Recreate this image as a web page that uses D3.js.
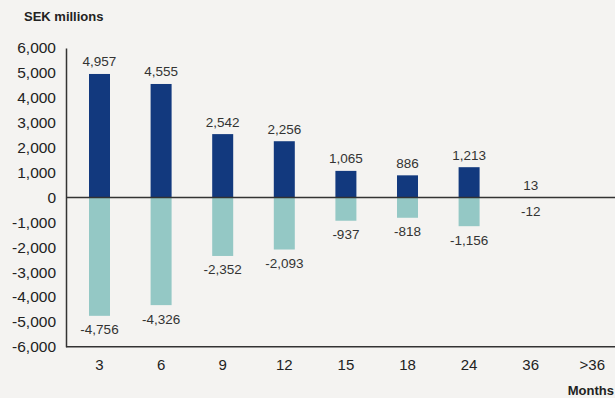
<!DOCTYPE html>
<html><head><meta charset="utf-8">
<script src="https://cdn.jsdelivr.net/npm/d3@7"></script>
<style>
html,body{margin:0;padding:0;background:#f4f3f1;}
svg{display:block;font-family:"Liberation Sans",Arial,Helvetica,sans-serif;}
</style></head>
<body>
<svg id="chart" width="615" height="398"></svg>
<script>
const categories = ["3","6","9","12","15","18","24","36",">36"];
const positiveValues = [4957,4555,2542,2256,1065,886,1213,13,null];
const negativeValues = [-4756,-4326,-2352,-2093,-937,-818,-1156,-12,null];
const yTicks = [-6000,-5000,-4000,-3000,-2000,-1000,0,1000,2000,3000,4000,5000,6000];
const yTitle = "SEK millions";
const xTitle = "Months";

const svg = d3.select("#chart");
svg.append("rect").attr("width",615).attr("height",398).attr("fill","#f4f3f1");

const x = d3.scaleBand().domain(categories).range([68.7, 623.1]).padding(0);
const y = d3.scaleLinear().domain([-6000,6000]).range([346.8, 48]);
const barW = 21;
const fmt0 = d3.formatLocale({decimal:".", thousands:",", grouping:[3], currency:["",""], minus:"-"}).format(",");
const fmt = v => fmt0(v);
const axisColor = "#333";

// bars
const posData = categories.map((c,i)=>({c, v: positiveValues[i]})).filter(d=>d.v!=null);
const negData = categories.map((c,i)=>({c, v: negativeValues[i]})).filter(d=>d.v!=null);

svg.append("g").selectAll("rect").data(negData).join("rect")
  .attr("x", d=>x(d.c)+x.bandwidth()/2-barW/2)
  .attr("width", barW)
  .attr("y", y(0))
  .attr("height", d=>y(d.v)-y(0))
  .attr("fill","#94c8c5");

svg.append("g").selectAll("rect").data(posData).join("rect")
  .attr("x", d=>x(d.c)+x.bandwidth()/2-barW/2)
  .attr("width", barW)
  .attr("y", d=>y(d.v))
  .attr("height", d=>y(0)-y(d.v))
  .attr("fill","#12397e");

// value labels
svg.append("g").selectAll("text").data(posData).join("text")
  .attr("x", d=>x(d.c)+x.bandwidth()/2)
  .attr("y", d=>y(d.v)-7.5)
  .attr("text-anchor","middle")
  .attr("font-size","13.5px").attr("fill","#333")
  .text(d=>fmt(d.v));
svg.append("g").selectAll("text").data(negData).join("text")
  .attr("x", d=>x(d.c)+x.bandwidth()/2)
  .attr("y", d=>y(d.v)+18.5)
  .attr("text-anchor","middle")
  .attr("font-size","13.5px").attr("fill","#333")
  .text(d=>fmt(d.v));

// y axis
const yAxis = d3.axisLeft(y).tickValues(yTicks).tickFormat(fmt).tickSize(0).tickPadding(10);
const gy = svg.append("g").attr("transform","translate(66,0)").call(yAxis);
gy.select(".domain").attr("stroke",axisColor).attr("stroke-width",1.5);
gy.selectAll("text").attr("font-size","15.5px").attr("fill","#222")
  .attr("font-family","Liberation Sans, Arial, sans-serif");

// x axis at bottom
const xAxis = d3.axisBottom(x).tickSize(0).tickPadding(13);
const gx = svg.append("g").attr("transform",`translate(0,${y(-6000)})`).call(xAxis);
gx.select(".domain").remove();
gx.append("line").attr("x1",66).attr("x2",615).attr("y1",0).attr("y2",0)
  .attr("stroke",axisColor).attr("stroke-width",1.5);
gx.selectAll(".tick text").attr("font-size","15px").attr("fill","#222")
  .attr("font-family","Liberation Sans, Arial, sans-serif");

// zero line
svg.append("line").attr("x1",66).attr("x2",615).attr("y1",y(0)).attr("y2",y(0))
  .attr("stroke",axisColor).attr("stroke-width",1.5);

// titles
svg.append("text").attr("x",24).attr("y",21).attr("font-size","13px")
  .attr("font-weight","bold").attr("fill","#222").text(yTitle);
svg.append("text").attr("x",614).attr("y",395).attr("text-anchor","end").attr("font-size","13px")
  .attr("font-weight","bold").attr("fill","#222").text(xTitle);
</script>
</body></html>
